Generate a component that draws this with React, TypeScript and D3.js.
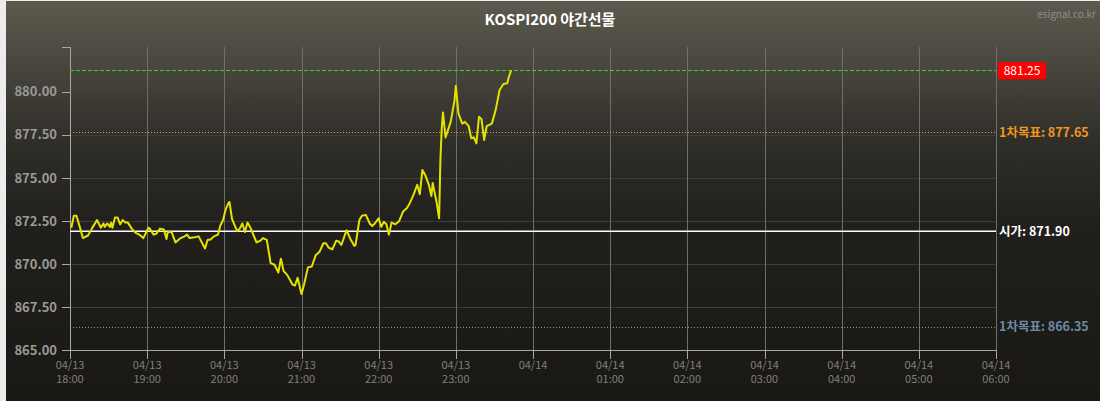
import React from 'react';
import * as d3 from 'd3';

const TITLE = 'KOSPI200 야간선물';
const WATERMARK = 'esignal.co.kr';

// minutes after 04/13 18:00
const minutesFrom1800 = [
  1, 3, 5, 8, 10, 14, 17, 21, 24, 26, 27, 29, 31, 32, 33, 35, 37, 39, 41, 43,
  45, 48, 51, 54, 57, 61, 62, 65, 67, 70, 73, 75, 76, 79, 82, 86, 89, 91, 93, 97,
  100, 105, 107, 109, 112, 115, 117, 119, 121, 123, 124, 126, 130, 132, 134, 136, 138, 140, 145, 148,
  150, 153, 156, 159, 162, 164, 166, 169, 173, 175, 177, 180, 182, 185, 188, 191, 194, 197, 199, 201,
  204, 207, 209, 211, 215, 218, 221, 222, 225, 227, 230, 233, 235, 237, 240, 242, 244, 246, 248, 250,
  253, 256, 259, 262, 264, 267, 270, 272, 274, 276, 279, 281, 282, 285, 287, 288, 289, 290, 292, 296,
  299, 300, 302, 305, 307, 310, 312, 314, 316, 318, 320, 322, 324, 328, 331, 334, 337, 340, 341, 343,
];

const prices = [
  872.1, 872.8, 872.8, 872.05, 871.5, 871.65, 872.05, 872.55, 872.1, 872.35, 872.15, 872.35, 872.15, 872.4, 872.1, 872.7, 872.7, 872.3, 872.55, 872.4,
  872.4, 872.05, 871.8, 871.7, 871.5, 872.1, 872.05, 871.7, 871.75, 872.05, 872.0, 871.45, 871.85, 871.85, 871.25, 871.5, 871.6, 871.7, 871.5, 871.55,
  871.6, 870.9, 871.4, 871.4, 871.6, 871.7, 872.25, 872.55, 873.15, 873.5, 873.6, 872.6, 871.9, 872.05, 872.35, 871.85, 872.4, 872.15, 871.25, 871.35,
  871.5, 871.4, 870.05, 869.95, 869.5, 870.3, 869.6, 869.35, 868.8, 868.75, 869.2, 868.25, 868.8, 869.8, 869.85, 870.5, 870.7, 871.2, 871.2, 870.95,
  870.85, 871.35, 871.3, 871.1, 871.95, 871.45, 871.05, 871.1, 872.55, 872.8, 872.85, 872.35, 872.2, 872.35, 872.65, 872.15, 872.45, 872.3, 871.7, 872.4,
  872.3, 872.5, 873.05, 873.25, 873.5, 874.0, 874.6, 874.05, 875.45, 875.2, 874.6, 873.95, 874.7, 873.6, 872.65, 876.05, 877.8, 878.8, 877.35, 878.25,
  879.5, 880.35, 878.75, 878.15, 878.25, 878.0, 877.3, 877.35, 877.0, 878.55, 878.4, 877.2, 878.0, 878.15, 878.95, 880.1, 880.45, 880.5, 880.8, 881.25,
];

const yTicks = [865, 867.5, 870, 872.5, 875, 877.5, 880];
const xTickOffsetsMin = [0, 60, 120, 180, 240, 300, 360, 420, 480, 540, 600, 660, 720];
const xTickDates = ['04/13', '04/13', '04/13', '04/13', '04/13', '04/13', '04/14', '04/14', '04/14', '04/14', '04/14', '04/14', '04/14'];
const xTickTimes = ['18:00', '19:00', '20:00', '21:00', '22:00', '23:00', '', '01:00', '02:00', '03:00', '04:00', '05:00', '06:00'];

const lastPrice = 881.25;
const target1Up = 877.65;
const openPrice = 871.9;
const target1Down = 866.35;

const W = 1100;
const H = 401;
const L = 70;
const R = 996;
const T = 47;
const B = 350;
const FONT = "'Noto Sans CJK KR', 'Noto Sans', sans-serif";

export default function App() {
  const x = d3.scaleLinear().domain([0, 720]).range([L, R]);
  const y = d3.scaleLinear().domain([865, 882.6]).range([B, T]);
  const line = d3
    .line<number>()
    .x((_, i) => x(minutesFrom1800[i]))
    .y((d) => y(d));
  const path = line(prices) || '';
  const px = (v: number) => Math.round(x(v)) + 0.5;
  const py = (v: number) => Math.round(y(v)) + 0.5;

  return (
    <svg
      width={W}
      height={H}
      style={{ position: 'absolute', left: 0, top: 0, display: 'block' }}
      fontFamily={FONT}
    >
      <defs>
        <linearGradient id="bg" x1="0" y1="0" x2="0" y2="1">
          <stop offset="0%" stopColor="#5c594e" />
          <stop offset="12%" stopColor="#4e4b42" />
          <stop offset="35%" stopColor="#302e29" />
          <stop offset="55%" stopColor="#22201c" />
          <stop offset="100%" stopColor="#1a1814" />
        </linearGradient>
      </defs>
      <rect x={0} y={0} width={W} height={H} fill="#ececec" />
      <rect x={6} y={1} width={W - 6} height={H - 1} fill="url(#bg)" />

      <text x={550} y={25} textAnchor="middle" fill="#ffffff" fontSize={15} fontWeight="bold">
        {TITLE}
      </text>
      <text x={1096} y={18} textAnchor="end" fill="#8e8e8e" fontSize={10}>
        {WATERMARK}
      </text>

      {/* horizontal grid */}
      {yTicks.map((v) => (
        <line key={'hg' + v} x1={L} x2={R} y1={py(v)} y2={py(v)} stroke="#3e3c37" strokeWidth={1} />
      ))}
      {/* vertical grid */}
      {xTickOffsetsMin.slice(1, -1).map((m) => (
        <line key={'vg' + m} x1={px(m)} x2={px(m)} y1={T} y2={B} stroke="#6e6e6e" strokeWidth={1} />
      ))}
      <line x1={px(720)} x2={px(720)} y1={T} y2={B} stroke="#6e6e6e" strokeWidth={1} />

      {/* y axis */}
      <line x1={L + 0.5} x2={L + 0.5} y1={T} y2={B + 8} stroke="#a8a8a8" strokeWidth={1} />
      <line x1={L - 8} x2={L} y1={T + 0.5} y2={T + 0.5} stroke="#a8a8a8" strokeWidth={1} />
      {yTicks.map((v) => (
        <g key={'yt' + v}>
          <line x1={L - 8} x2={L} y1={py(v)} y2={py(v)} stroke="#a8a8a8" strokeWidth={1} />
          <text x={57} y={y(v)} dy="0.36em" textAnchor="end" fill="#9a9a9a" fontSize={13} fontWeight="bold">
            {v.toFixed(2)}
          </text>
        </g>
      ))}

      {/* x axis */}
      <line x1={L} x2={R + 1} y1={B + 0.5} y2={B + 0.5} stroke="#a8a8a8" strokeWidth={1} />
      {xTickOffsetsMin.map((m, i) => (
        <g key={'xt' + m}>
          <line x1={px(m)} x2={px(m)} y1={B} y2={B + 9} stroke="#a8a8a8" strokeWidth={1} />
          <text x={x(m)} y={369} textAnchor="middle" fill="#7f7f7f" fontSize={11}>
            {xTickDates[i]}
          </text>
          {xTickTimes[i] && (
            <text x={x(m)} y={383} textAnchor="middle" fill="#7f7f7f" fontSize={11}>
              {xTickTimes[i]}
            </text>
          )}
        </g>
      ))}

      {/* reference lines */}
      <line x1={L} x2={R} y1={py(lastPrice)} y2={py(lastPrice)} stroke="#2fd82f" strokeWidth={1} strokeDasharray="4,2" />
      <line x1={L} x2={R} y1={py(target1Up)} y2={py(target1Up)} stroke="#e7a23a" strokeWidth={1} strokeDasharray="1,2" />
      <line x1={L} x2={R} y1={y(openPrice)} y2={y(openPrice)} stroke="#ffffff" strokeWidth={1.6} />
      <line x1={L} x2={R} y1={py(target1Down)} y2={py(target1Down)} stroke="#7e98b3" strokeWidth={1} strokeDasharray="1,2" />

      {/* price line */}
      <path d={path} fill="none" stroke="#e3e300" strokeWidth={2} strokeLinejoin="round" />

      {/* right labels */}
      <rect x={998} y={y(lastPrice) - 8} width={48} height={17} fill="#ff0000" />
      <text x={1022} y={y(lastPrice)} dy="0.36em" textAnchor="middle" fill="#ffffff" fontSize={12}>
        {lastPrice.toFixed(2)}
      </text>
      <text x={999} y={y(target1Up)} dy="0.36em" fill="#f3961f" fontSize={12.5} fontWeight="bold">
        {'1차목표: ' + target1Up.toFixed(2)}
      </text>
      <text x={999} y={y(openPrice)} dy="0.36em" fill="#ffffff" fontSize={12.5} fontWeight="bold">
        {'시가: ' + openPrice.toFixed(2)}
      </text>
      <text x={999} y={y(target1Down)} dy="0.36em" fill="#6f8aa6" fontSize={12.5} fontWeight="bold">
        {'1차목표: ' + target1Down.toFixed(2)}
      </text>
    </svg>
  );
}
